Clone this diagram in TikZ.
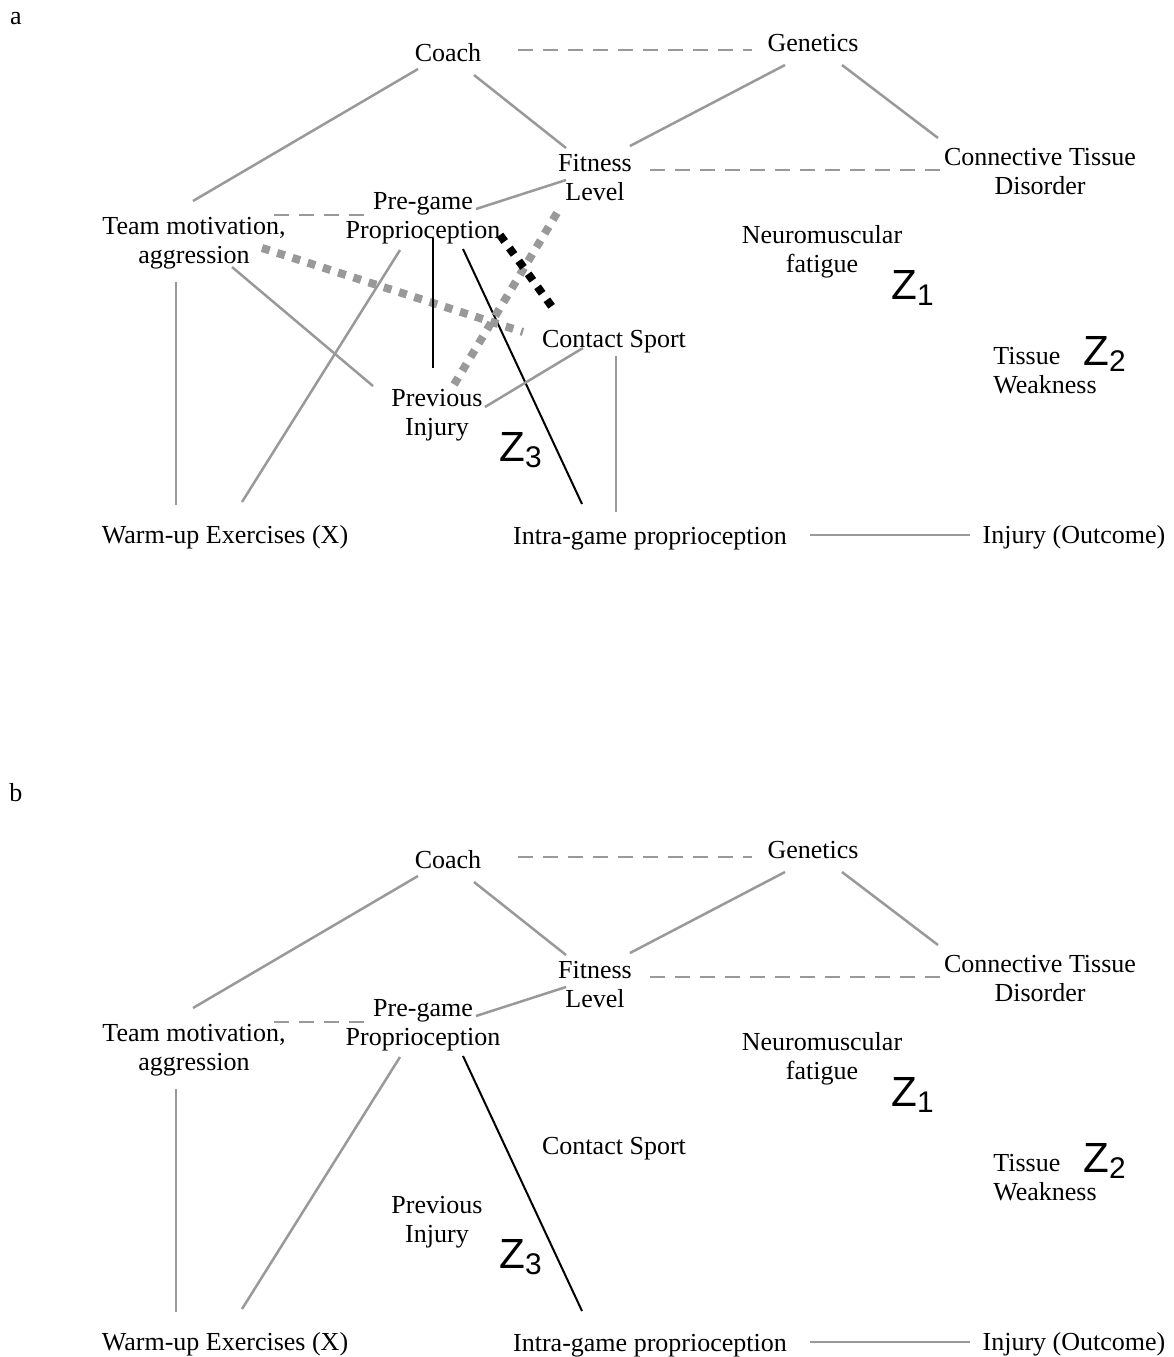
\documentclass[tikz,border=0pt]{standalone}
\usepackage{fontspec}
\usetikzlibrary{calc}
\setmainfont{Liberation Serif}
\newfontfamily\zfont{Liberation Sans}
\newcommand{\zlab}[1]{Z\raisebox{-3.5pt}{\fontsize{17}{17}\selectfont #1}}
\begin{document}
\begin{tikzpicture}[x=0.2mm,y=-0.2mm,
        tsty/.style={font=\fontsize{14.8}{16.5}\selectfont,align=center,inner sep=0pt},
        zsty/.style={anchor=base west,inner sep=0pt,font=\zfont\fontsize{24}{24}\selectfont},
        gline/.style={draw=black!40,line width=0.5mm},
        gdash/.style={gline,dash pattern=on 3mm off 2mm},
        gdot/.style={draw=black!40,line width=1.6mm,dash pattern=on 1.6mm off 1.6mm},
        bdot/.style={gdot,draw=black},
        bline/.style={draw=black,line width=0.4mm},
        ]
    \useasboundingbox (0,0) rectangle (1174,1357);

    \node (la) at (16,19) [tsty] {a};
    \node (lb) at (16,793) [tsty] {b};

    % both panels share the same skeleton
    \foreach \p/\dy in {a/0,b/807} {
    \begin{scope}[shift={(0,\dy)},name prefix=\p-]
        \node (coach) at (448,53) [tsty] {Coach};
        \node (gen) at (813,43) [tsty] {Genetics};
        \node (fit) at (595,178) [tsty] {Fitness\\Level};
        \node (ctd) at (1040,172) [tsty] {Connective Tissue\\Disorder};
        \node (pre) at (423,218) [tsty] {Pre-game\\Proprioception};
        \node (team) at (194,243) [tsty] {Team motivation,\\aggression};
        \node (neuro) at (822,252) [tsty] {Neuromuscular\\fatigue};
        \node (cont) at (614,342) [tsty] {Contact Sport};
        \node (tis) at (1045,371) [tsty,align=left] {Tissue\\Weakness};
        \node (prev) at (437,415) [tsty] {Previous\\Injury};
        \node (warm) at (225,537) [tsty] {Warm-up Exercises (X)};
        \node (intra) at (650,539) [tsty] {Intra-game proprioception};
        \node (inj) at (1074,537) [tsty] {Injury (Outcome)};

        \node (z1) at (891,299) [zsty] {\zlab{1}};
        \node (z2) at (1083,365) [zsty] {\zlab{2}};
        \node (z3) at (499,461) [zsty] {\zlab{3}};

        \draw[gdash] ($(coach)+(70,-3)$) -- ($(gen)+(-61,7)$);
        \draw[gline] ($(coach)+(-30,16)$) -- ($(team)+(-1,-42)$);
        \draw[gline] ($(coach)+(26,22)$) -- ($(fit)+(-29,-30)$);
        \draw[gline] ($(gen)+(-28,22)$) -- ($(fit)+(35,-32)$);
        \draw[gline] ($(gen)+(29,22)$) -- ($(ctd)+(-102,-34)$);
        \draw[gdash] ($(fit)+(55,-8)$) -- ($(ctd)+(-90,-2)$);
        \draw[gline] ($(fit)+(-29,2)$) -- ($(pre)+(53,-9)$);
        \draw[gdash] ($(team)+(80,-28)$) -- ($(pre)+(-55,-3)$);
        \draw[gline] ($(team)+(-18,39)$) -- ($(warm)+(-49,-32)$);
        \draw[gline] ($(pre)+(-23,32)$) -- ($(warm)+(17,-35)$);
        \draw[bline] ($(pre)+(40,31)$) -- ($(intra)+(-68,-35)$);
        \draw[gline] ($(intra)+(160,-4)$) -- ($(inj)+(-104,-2)$);
    \end{scope}
    }

    % panel a only
    \draw[gdot] ($(a-team)+(68,5)$) -- ($(a-cont)+(-91,-10)$);
    \draw[gdot] ($(a-fit)+(-38,35)$) -- ($(a-prev)+(15,-27)$);
    \draw[bdot] ($(a-pre)+(77,17)$) -- ($(a-cont)+(-59,-31)$);
    \draw[bline] ($(a-pre)+(10,20)$) -- ($(a-prev)+(-4,-47)$);
    \draw[gline] ($(a-team)+(38,24)$) -- ($(a-prev)+(-64,-29)$);
    \draw[gline] ($(a-prev)+(48,-8)$) -- ($(a-cont)+(-31,6)$);
    \draw[gline] ($(a-cont)+(2,14)$) -- ($(a-intra)+(-34,-27)$);

\end{tikzpicture}
\end{document}
